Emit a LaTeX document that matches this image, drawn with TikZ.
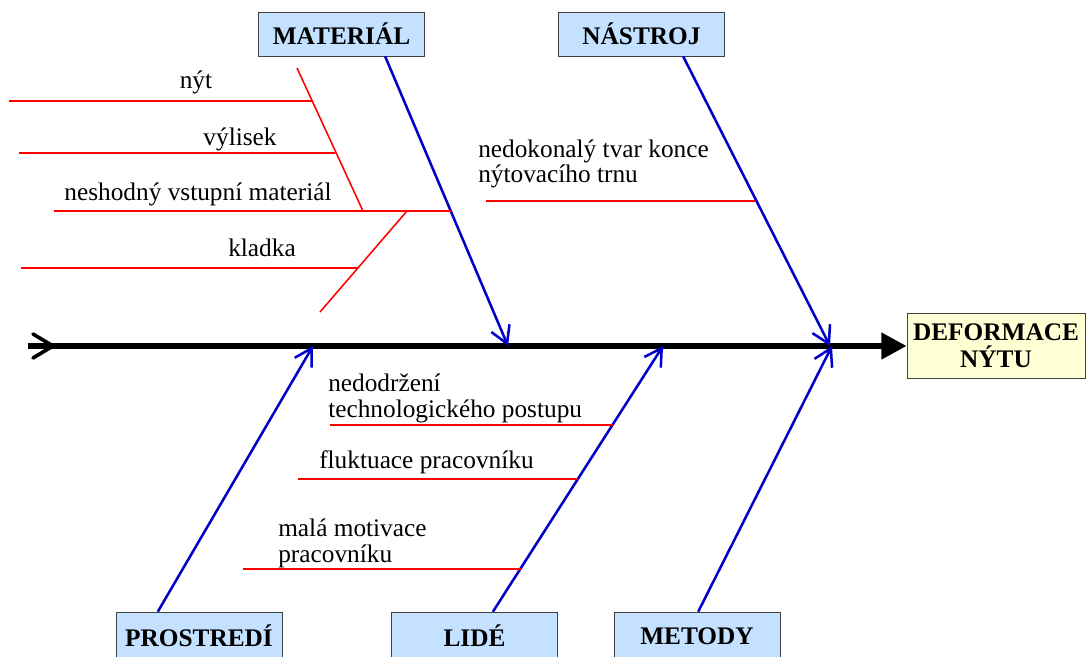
\documentclass[tikz,border=0pt]{standalone}
\usepackage{fontspec}
\setmainfont{Liberation Serif}
\usetikzlibrary{arrows.meta}
\definecolor{boxblue}{RGB}{196,225,255}
\definecolor{boxyellow}{RGB}{255,255,212}
\definecolor{boneblue}{RGB}{0,0,200}
\begin{document}
\begin{tikzpicture}[x=0.025cm, y=-0.025cm,
    causebox/.style={rectangle, draw=black!75, fill=boxblue, minimum width=4.15cm, inner sep=0pt, font=\fontsize{18}{19}\selectfont\bfseries},
    effectbox/.style={rectangle, draw=black!75, fill=boxyellow, minimum width=4.45cm, minimum height=1.625cm, inner sep=0pt, align=center, font=\fontsize{18}{19.5}\selectfont\bfseries},
    spine/.style={line width=4.6pt, -{Triangle[length=18pt, width=18pt]}},
    bone/.style={line width=1.8pt, boneblue, -{Straight Barb[length=12pt, width=14pt]}},
    rib/.style={line width=1.1pt, red},
    lbl/.style={inner sep=0pt, font=\fontsize{18}{17.8}\selectfont},
]
\useasboundingbox (0,0) rectangle (1088,657);

% Effect and spine
\node[effectbox] (effect) at (996,346) {DEFORMACE\\NÝTU};
\coordinate (tail) at (28,346);
\draw[spine] (tail) -- (effect.west);
\draw[line width=2.6pt, line cap=round] ([shift={(5,-12)}]tail) -- ([shift={(25,0)}]tail) -- ([shift={(5,12)}]tail);

% Cause boxes
\foreach \name/\x/\y/\h/\txt in {mat/341.5/34/1.1cm/MATERIÁL, nas/641.5/34/1.1cm/NÁSTROJ,
    pro/199/636/1.2cm/PROSTREDÍ, lid/474.5/636/1.2cm/LIDÉ, met/697/636/1.2cm/METODY} {
    \node[causebox, minimum height=\h] (\name) at (\x,\y) {\txt};
}

% Joints on the spine
\coordinate (jmat) at (508,346);
\coordinate (jnas) at (830,346);
\coordinate (jpro) at (313,346);
\coordinate (jlid) at (663,346);
\coordinate (jmet) at (832,346);

% Main bones
\draw[bone] ([xshift=1.09cm]mat.south) -- (jmat);
\draw[bone] ([xshift=1.04cm]nas.south) -- (jnas);
\draw[bone] ([xshift=-1.03cm]pro.north) -- (jpro);
\draw[bone] ([xshift=0.46cm]lid.north) -- (jlid);
\draw[bone] ([xshift=0.03cm]met.north) -- (jmet);

% MATERIAL ribs
\coordinate (r1a) at (9,101);    \coordinate (r1b) at (312,101);
\coordinate (r2a) at (19,153);   \coordinate (r2b) at (335,153);
\coordinate (r3a) at (54,211);   \coordinate (r3b) at (451,211);
\coordinate (r4a) at (21,268);   \coordinate (r4b) at (358,268);
\coordinate (d1a) at (297,68);   \coordinate (d1b) at (363,211);
\coordinate (d2a) at (320,312);  \coordinate (d2b) at (407,211);
\draw[rib] (r1a) -- (r1b);
\draw[rib] (r2a) -- (r2b);
\draw[rib] (r3a) -- (r3b);
\draw[rib] (r4a) -- (r4b);
\draw[rib] (d1a) -- (d1b);
\draw[rib] (d2a) -- (d2b);
\node[lbl, anchor=base] (tnyt) at (196,89) {nýt};
\node[lbl, anchor=base] (tvyl) at (240,146) {výlisek};
\node[lbl, anchor=base] (tnes) at (198,201) {neshodný vstupní materiál};
\node[lbl, anchor=base] (tkla) at (262,256) {kladka};

% NASTROJ rib
\coordinate (r5a) at (486,201);  \coordinate (r5b) at (756,201);
\draw[rib] (r5a) -- (r5b);
\node[lbl, anchor=base west, align=left] (tned) at (478,183) {nedokonalý tvar konce\\nýtovacího trnu};

% LIDE ribs
\coordinate (r6a) at (330,425);  \coordinate (r6b) at (613,425);
\coordinate (r7a) at (298,479);  \coordinate (r7b) at (578,479);
\coordinate (r8a) at (243,569);  \coordinate (r8b) at (521,569);
\draw[rib] (r6a) -- (r6b);
\draw[rib] (r7a) -- (r7b);
\draw[rib] (r8a) -- (r8b);
\node[lbl, anchor=base west, align=left] (tdod) at (328,417) {nedodržení\\technologického postupu};
\node[lbl, anchor=base west] (tflu) at (319,468) {fluktuace pracovníku};
\node[lbl, anchor=base west, align=left] (tmot) at (278,562) {malá motivace\\pracovníku};
\end{tikzpicture}
\end{document}
